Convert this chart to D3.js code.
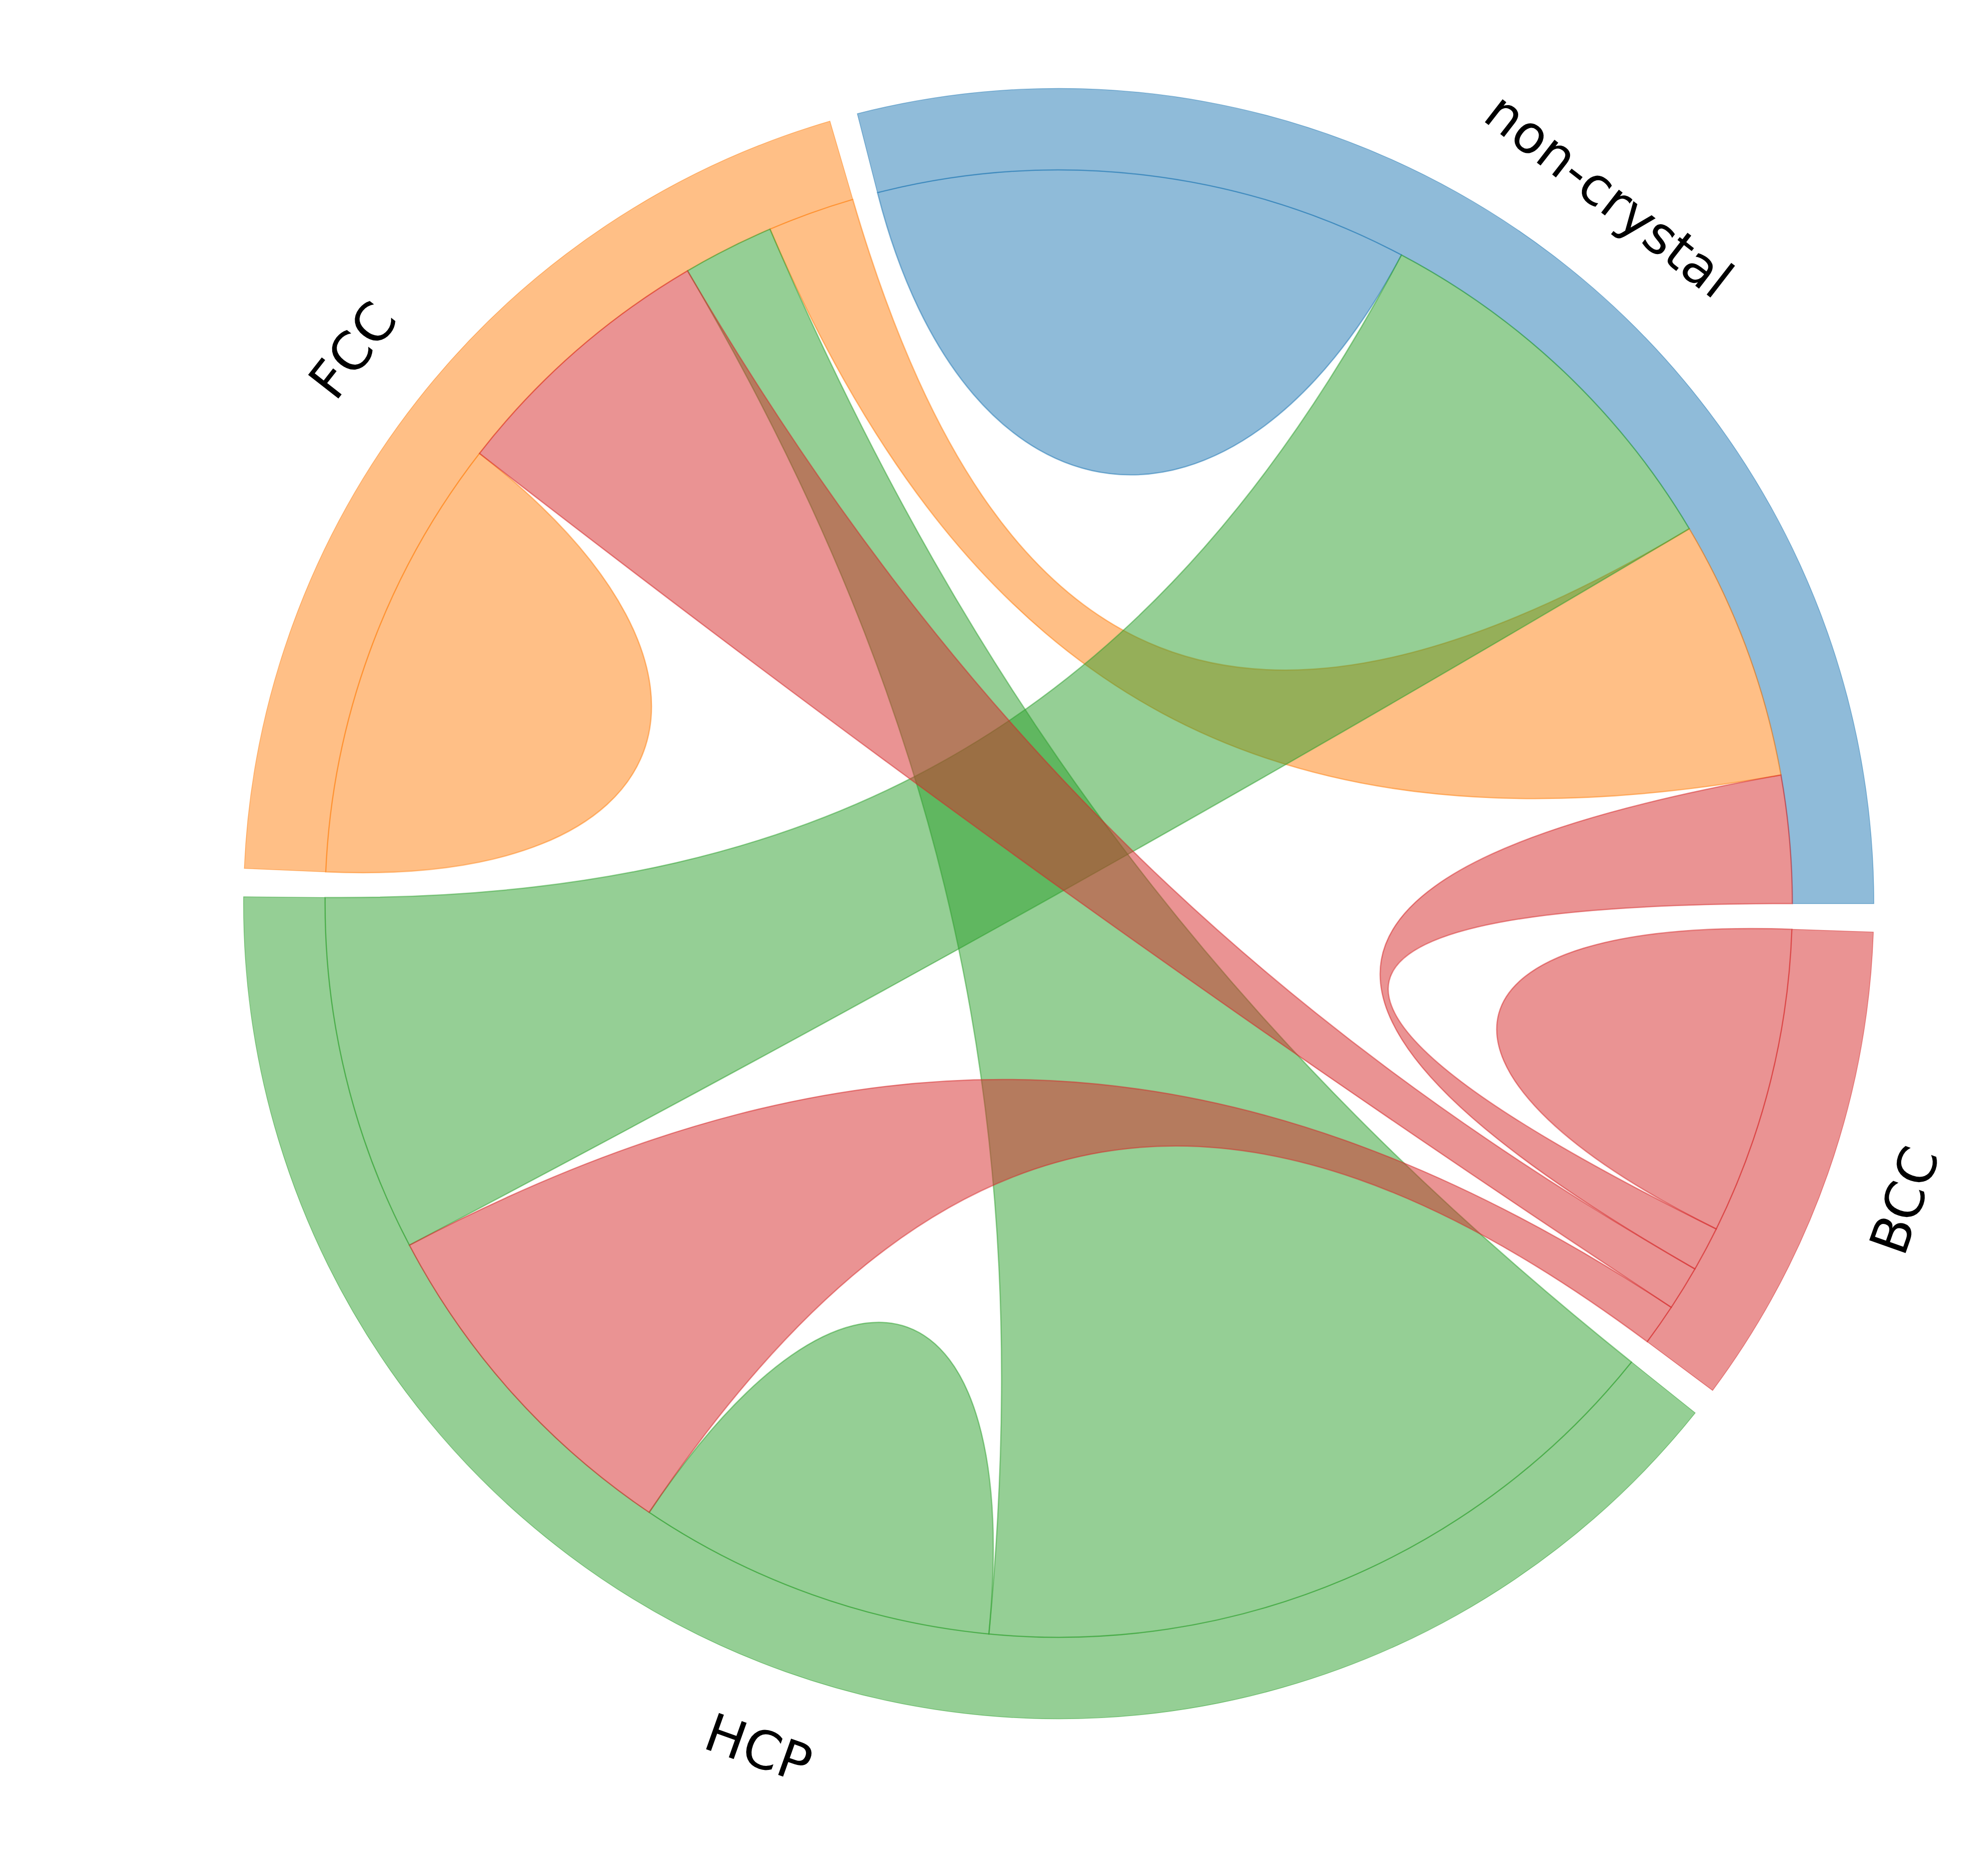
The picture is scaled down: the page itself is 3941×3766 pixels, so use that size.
<!DOCTYPE html>
<html>
<head>
<meta charset="utf-8">
<script src="https://cdn.jsdelivr.net/npm/d3@7"></script>
<style>
  html, body { margin: 0; padding: 0; background: #ffffff; }
</style>
</head>
<body>
<div id="chord"></div>
<script>
// categories, in the order they go round the circle
var names = ["non-crystal", "FCC", "HCP", "BCC"];

// part of each category's arc that links to every category (same order as names)
var fromNonCrystal = [42.15, 20.63, 31.41, 10.10];
var fromFCC        = [6.87, 35.37, 7.22, 21.75];
var fromHCP        = [28.22, 56.79, 28.47, 28.32];
var fromBCC        = [3.54, 3.52, 3.28, 24.32];
var flows = [fromNonCrystal, fromFCC, fromHCP, fromBCC];

function drawChord(){
  var width = 3941, height = 3766;
  var cx = 2125.5, cy = 1814;
  var outer = 1636.5,
      inner = outer * 0.9,
      rChord = inner * 0.3,   // control radius for links
      rSelf = inner * 0.51;   // control radius for self links
  var gap = 2;                // degrees between categories

  var svg = d3.select("#chord")
    .append("svg")
      .attr("width", width)
      .attr("height", height);

  var color = d3.scaleOrdinal()
    .domain(names)
    .range(d3.schemeCategory10);

  var totals = flows.map(function(row){ return d3.sum(row); });
  var grand = d3.sum(totals);

  // value -> degrees (counter clockwise from east)
  var angle = d3.scaleLinear()
    .domain([0, grand])
    .range([0, 360 - gap * names.length]);

  // start / end of every category arc and of every sub arc inside it
  var nodes = [];
  var sub = [];   // sub[i][j] = [start, end]
  var acc = 0;
  names.forEach(function(name, i){
    var start = angle(acc) + i * gap;
    var end = angle(acc + totals[i]) + i * gap;
    nodes.push({name: name, start: start, end: end});
    // links sorted by size, smallest first
    var order = d3.range(names.length).sort(function(a, b){ return flows[i][a] - flows[i][b]; });
    var s = acc;
    sub[i] = [];
    order.forEach(function(j){
      sub[i][j] = [angle(s) + i * gap, angle(s + flows[i][j]) + i * gap];
      s += flows[i][j];
    });
    acc += totals[i];
  });

  function rad(d){ return d * Math.PI / 180; }
  function pt(r, a){ return [cx + r * Math.cos(rad(a)), cy - r * Math.sin(rad(a))]; }

  // outer ring
  svg.append("g")
    .selectAll("path")
    .data(nodes)
    .enter()
    .append("path")
      .attr("d", function(d){
        var p = d3.path();
        p.arc(cx, cy, outer, -rad(d.start), -rad(d.end), true);
        p.arc(cx, cy, inner, -rad(d.end), -rad(d.start), false);
        p.closePath();
        return p.toString();
      })
      .style("fill", function(d){ return color(d.name); })
      .style("fill-opacity", 0.5)
      .style("stroke", function(d){ return color(d.name); })
      .style("stroke-opacity", 0.5)
      .style("stroke-width", 1.5);

  // links, drawn i <= j so later ones sit on top
  var links = [];
  for (var i = 0; i < names.length; i++){
    for (var j = i; j < names.length; j++){
      links.push({i: i, j: j});
    }
  }

  function linkPath(d){
    var p = d3.path();
    var a = sub[d.i][d.j], b = sub[d.j][d.i];
    var p0 = pt(inner, a[0]);
    p.moveTo(p0[0], p0[1]);
    p.arc(cx, cy, inner, -rad(a[0]), -rad(a[1]), true);
    if (d.i === d.j){
      var c1 = pt(rSelf, a[1]), c2 = pt(rSelf, a[0]);
      p.bezierCurveTo(c1[0], c1[1], c2[0], c2[1], p0[0], p0[1]);
    } else {
      var q1 = pt(rChord, a[1]), q2 = pt(rChord, b[0]), q3 = pt(inner, b[0]);
      p.bezierCurveTo(q1[0], q1[1], q2[0], q2[1], q3[0], q3[1]);
      p.arc(cx, cy, inner, -rad(b[0]), -rad(b[1]), true);
      var w1 = pt(rChord, b[1]), w2 = pt(rChord, a[0]);
      p.bezierCurveTo(w1[0], w1[1], w2[0], w2[1], p0[0], p0[1]);
    }
    p.closePath();
    return p.toString();
  }

  svg.append("g")
    .selectAll("path")
    .data(links)
    .enter()
    .append("path")
      .attr("d", linkPath)
      .style("fill", function(d){ return color(names[Math.max(d.i, d.j)]); })
      .style("fill-opacity", 0.5)
      .style("stroke", function(d){ return color(names[Math.max(d.i, d.j)]); })
      .style("stroke-opacity", 0.5)
      .style("stroke-width", 2.5);

  // category names, turned along the circle
  svg.append("g")
    .selectAll("text")
    .data(nodes)
    .enter()
    .append("text")
      .attr("transform", function(d){
        var mid = (d.start + d.end) / 2;
        var xy = pt(outer * 1.1, mid);
        var rot = mid < 180 ? 90 - mid : 270 - mid;
        return "translate(" + xy[0] + "," + xy[1] + ") rotate(" + rot + ")";
      })
      .attr("text-anchor", "middle")
      .attr("dominant-baseline", "central")
      .style("font-family", "DejaVu Sans")
      .style("font-size", "106px")
      .text(function(d){ return d.name; });
}

drawChord();
</script>
</body>
</html>
